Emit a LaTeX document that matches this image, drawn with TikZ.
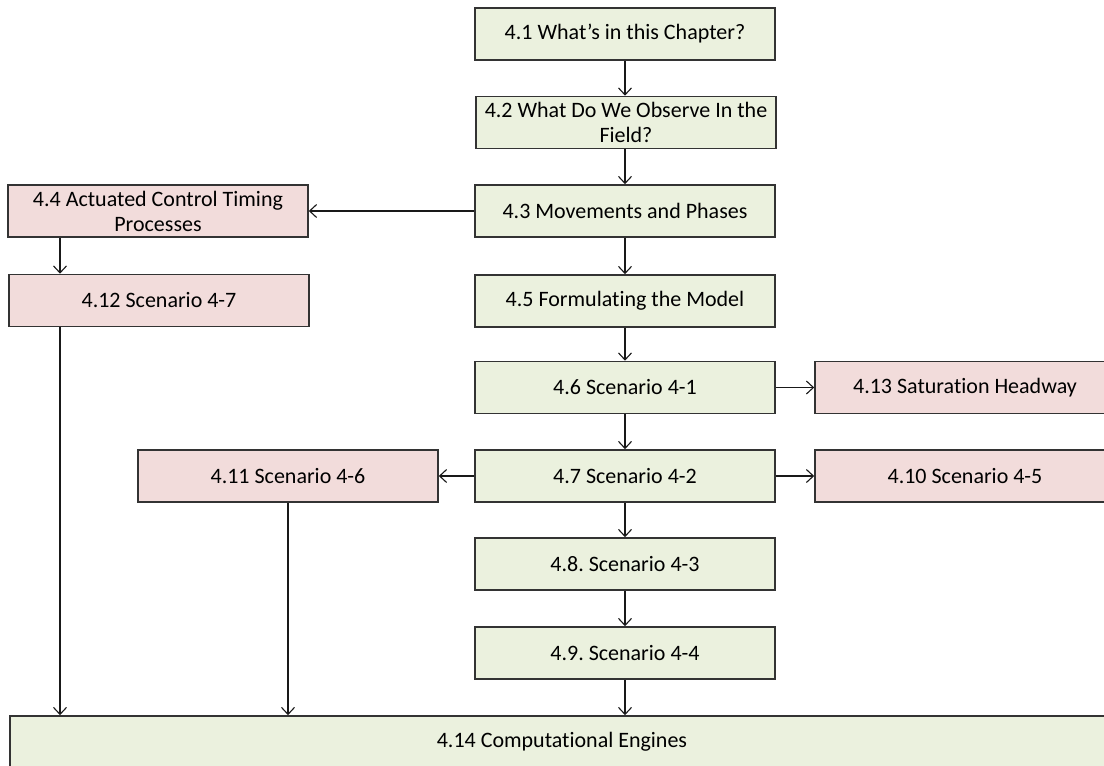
\documentclass[tikz,border=0pt]{standalone}
\usepackage{fontspec}
\setmainfont{Carlito}[Ligatures=NoCommon]
\usetikzlibrary{arrows.meta}

\definecolor{boxgreen}{HTML}{EBF1DE}
\definecolor{boxpink}{HTML}{F2DCDB}

\frenchspacing

\tikzset{
  stage/.style={draw=black!80, line width=0.8pt, minimum width=150pt,
    minimum height=26pt, align=center, inner sep=1pt,
    font=\fontsize{11}{12.5}\selectfont},
  core/.style={stage, fill=boxgreen},
  side/.style={stage, fill=boxpink},
  flow/.style={-{Straight Barb[length=3.5pt,width=6.5pt]}, line width=0.55pt, black!90},
}

\begin{document}
\begin{tikzpicture}[x=0.5pt, y=-0.5pt]

    % Fix the page to the reference frame
    \useasboundingbox (0,0) rectangle (1104,766);
    \clip (0,0) rectangle (1104,766);

    % Main column
    \node[core] (s41) at (625,34) {4.1 What’s in this Chapter?};
    \node[core] (s42) at (626,122.5) {4.2 What Do We Observe In the\\Field?};
    \node[core] (s43) at (625,211) {4.3 Movements and Phases};
    \node[core] (s45) at (625,301) {4.5 Formulating the Model};
    \node[core] (s46) at (625,387.5) {4.6 Scenario 4-1};
    \node[core] (s47) at (625,476) {4.7 Scenario 4-2};
    \node[core] (s48) at (625,564) {4.8. Scenario 4-3};
    \node[core] (s49) at (625,653) {4.9. Scenario 4-4};

    % Side branches
    \node[side] (s44) at (158,211) {4.4 Actuated Control Timing\\Processes};
    \node[side] (s412) at (159,300.5) {4.12 Scenario 4-7};
    \node[side] (s411) at (288,476) {4.11 Scenario 4-6};
    \node[side] (s413) at (965,387.5) {4.13 Saturation Headway};
    \node[side] (s410) at (965,476) {4.10 Scenario 4-5};

    % Common sink
    \node[core, minimum width=552pt] (s414) at (562,742) {4.14 Computational Engines};

    % Left drop line
    \coordinate (drop) at (60,0);

    % Connectors down the main column
    \draw[flow] (s41.south -| s43) -- (s42.north -| s43);
    \draw[flow] (s42.south -| s43) -- (s43);
    \draw[flow] (s43) -- (s45);
    \draw[flow] (s45) -- (s46);
    \draw[flow] (s46) -- (s47);
    \draw[flow] (s47) -- (s48);
    \draw[flow] (s48) -- (s49);
    \draw[flow] (s49) -- (s414.north -| s49);

    % Connectors to the branches
    \draw[flow] (s43) -- (s44);
    \draw[flow] (s46) -- (s413);
    \draw[flow] (s47) -- (s410);
    \draw[flow] (s47) -- (s411);
    \draw[flow] (s44.south -| drop) -- (s412.north -| drop);
    \draw[flow] (s412.south -| drop) -- (s414.north -| drop);
    \draw[flow] (s411) -- (s414.north -| s411);

\end{tikzpicture}
\end{document}
